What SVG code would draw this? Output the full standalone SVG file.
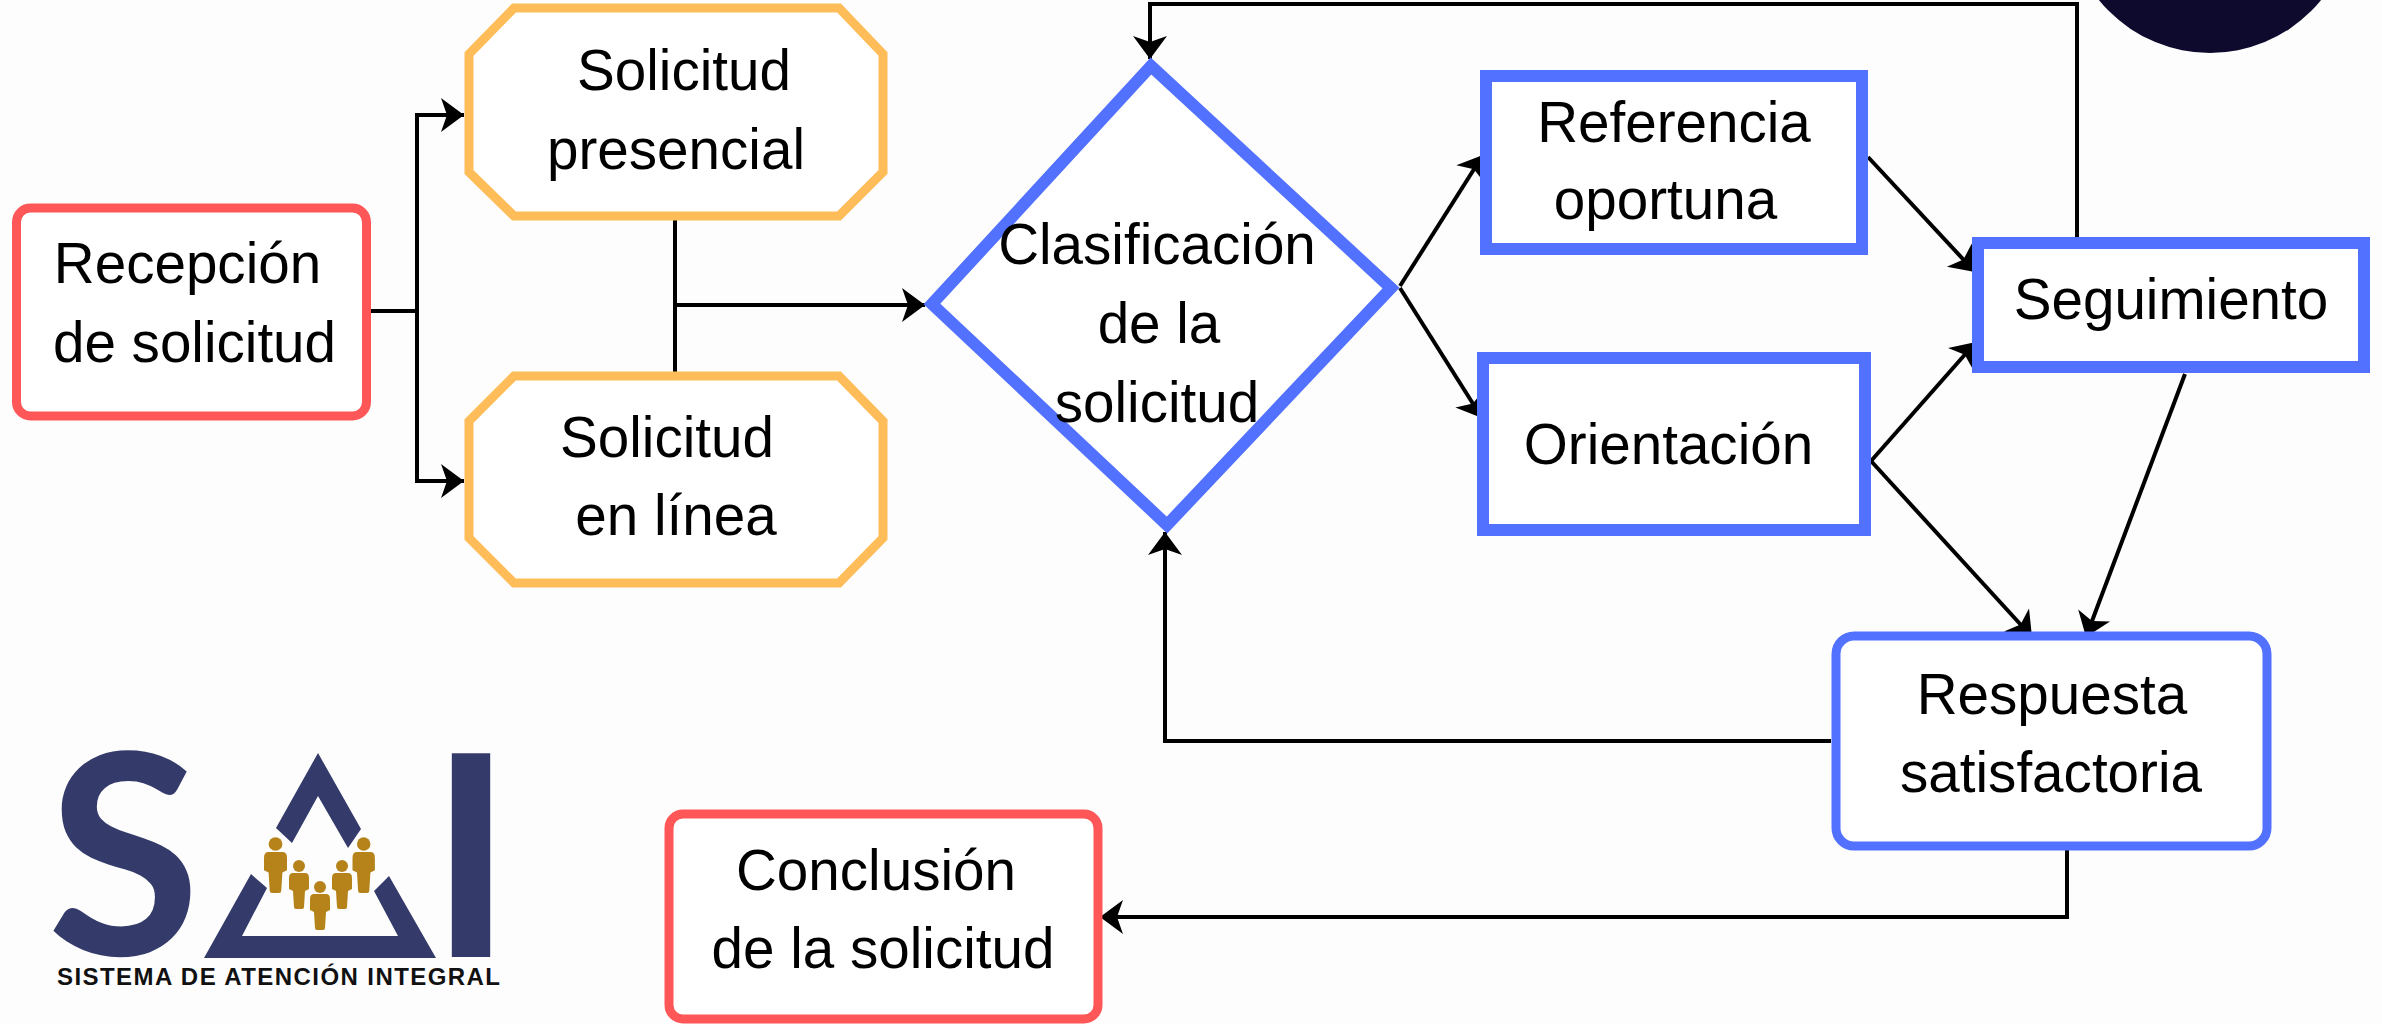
<svg xmlns="http://www.w3.org/2000/svg" width="2382" height="1024" viewBox="0 0 2382 1024">
<style>
.t{font-family:"Liberation Sans",Arial,sans-serif;font-size:56.6px;fill:#000;text-anchor:middle}
.box{fill:#fff;stroke-linejoin:miter}
.red{stroke:#ff5757;stroke-width:9}
.org{stroke:#ffbd59;stroke-width:9}
.blu{stroke:#5271ff;stroke-width:12}
.blr{stroke:#5271ff;stroke-width:9}
.c{fill:none;stroke:#000;stroke-width:4;stroke-linejoin:miter}
.a{marker-end:url(#arr)}
.navy{fill:#343b6b}
.gold{fill:#b5831a}
</style>
<defs>
<marker id="arr" markerUnits="userSpaceOnUse" markerWidth="26" markerHeight="36" refX="23" refY="17" orient="auto" overflow="visible">
<path d="M0,0 L23,17 L0,34 L6,17 Z" fill="#000"/>
</marker>
<g id="person"><circle cx="10" cy="-7" r="6"/><path d="M4,0 H16 Q20,0 20,5 L20,16 L16,18 L15,34 Q15,36 13,36 H7 Q5,36 5,34 L4,18 L0,16 V5 Q0,0 4,0 Z"/></g>
</defs>
<rect width="2382" height="1024" fill="#fdfdfd"/>
<circle id="corner-circle" cx="2210" cy="-90" r="143" fill="#0d0a2e"/>
<g id="connectors">
<path class="c" d="M371,311 H417"/>
<path class="c a" d="M417,311 V115 H464"/>
<path class="c a" d="M417,311 V481 H464"/>
<path class="c" d="M675,220 V372"/>
<path class="c a" d="M675,305 H925"/>
<path class="c a" d="M2077,237 V4 H1150 V59"/>
<path class="c a" d="M1400,286 L1483,155"/>
<path class="c a" d="M1400,288 L1482,418"/>
<path class="c a" d="M1868,157 L1975,272"/>
<path class="c a" d="M1871,461 L1976,342"/>
<path class="c a" d="M1871,461 L2032,637"/>
<path class="c a" d="M2185,374 L2086,637"/>
<path class="c a" d="M1831,741 H1165 V532"/>
<path class="c a" d="M2067,848 V917 H1100"/>
</g>
<g id="recepcion"><rect class="box red" x="16.5" y="208" width="350" height="208" rx="14"/><text class="t" x="187.5" y="283">Recepción</text><text class="t" x="194.5" y="362">de solicitud</text></g>
<g id="presencial"><polygon class="box org" points="514,8 839,8 883,54 883,172 839,216 514,216 469,172 469,54"/><text class="t" x="684" y="90">Solicitud</text><text class="t" x="676" y="169">presencial</text></g>
<g id="enlinea"><polygon class="box org" points="514,376 839,376 883,421 883,538 839,583 514,583 469,538 469,421"/><text class="t" x="667" y="457">Solicitud</text><text class="t" x="676" y="535">en línea</text></g>
<g id="clasificacion"><polygon class="box" stroke="#5271ff" stroke-width="12" points="1151,66 1391,288 1167,525 932,304"/><text class="t" x="1157" y="264">Clasificación</text><text class="t" x="1159" y="343">de la</text><text class="t" x="1157" y="422">solicitud</text></g>
<g id="referencia"><rect class="box blu" x="1486" y="76" width="376" height="173"/><text class="t" x="1674" y="142">Referencia</text><text class="t" x="1665.5" y="219">oportuna</text></g>
<g id="orientacion"><rect class="box blu" x="1483" y="358" width="382" height="172"/><text class="t" x="1668.5" y="464">Orientación</text></g>
<g id="seguimiento"><rect class="box blu" x="1978" y="243" width="386" height="124"/><text class="t" x="2171" y="319">Seguimiento</text></g>
<g id="respuesta"><rect class="box blr" x="1836" y="636" width="431" height="210" rx="18"/><text class="t" x="2052" y="714">Respuesta</text><text class="t" x="2051" y="792">satisfactoria</text></g>
<g id="conclusion"><rect class="box red" x="669" y="814" width="429" height="205" rx="14"/><text class="t" x="876" y="890">Conclusión</text><text class="t" x="883" y="968">de la solicitud</text></g>
<g id="logo">
<text class="navy" font-family="Lato,'Liberation Sans',sans-serif" font-weight="700" font-size="280" x="47" y="955">S</text>
<text class="navy" font-family="'Liberation Sans',Arial,sans-serif" font-weight="700" font-size="296" transform="translate(434,957) scale(0.9,1)">I</text>
<polygon class="navy" points="318,753 361,829 348,848 318,796 292,843 276,828"/>
<polygon class="navy" points="251,874 267,888 242,936 398,936 374,891 389,876 436,958 204,958"/>
<g class="gold">
<use href="#person" transform="translate(264,852) scale(1.15,1.14)"/>
<use href="#person" transform="translate(352.5,852) scale(1.12,1.14)"/>
<use href="#person" transform="translate(289,873)"/>
<use href="#person" transform="translate(332,873)"/>
<use href="#person" transform="translate(310,894)"/>
</g>
<text font-family="'Liberation Sans',Arial,sans-serif" font-weight="700" font-size="24" x="57" y="985" textLength="443" lengthAdjust="spacing" fill="#111">SISTEMA DE ATENCIÓN INTEGRAL</text>
</g>
</svg>
